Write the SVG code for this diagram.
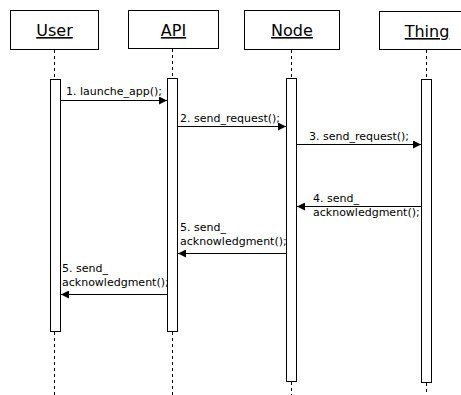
<svg xmlns="http://www.w3.org/2000/svg" width="461" height="395" viewBox="0 0 461 395">
<style>
.box{fill:#fff;stroke:#000;stroke-width:1}
.act{fill:#fff;stroke:#000;stroke-width:1}
.life{stroke:#000;stroke-width:1;stroke-dasharray:3 3;fill:none}
.title{font-family:"DejaVu Sans",Verdana,sans-serif;font-size:16px;text-anchor:middle;text-decoration:underline;fill:#000}
.msg{stroke:#000;stroke-width:1;fill:none;marker-end:url(#arr)}
.lbl{font-family:"DejaVu Sans",Verdana,sans-serif;font-size:11px;fill:#000}
</style>
<defs>
<marker id="arr" viewBox="0 0 10 10" refX="10" refY="5" markerWidth="8" markerHeight="8" markerUnits="userSpaceOnUse" orient="auto">
<path d="M0,0 L10,5 L0,10 z" fill="#000"/>
</marker>
</defs>
<g id="user">
<rect class="box" x="10.5" y="10.5" width="88" height="39"/>
<text class="title" x="54.5" y="36">User</text>
<line class="life" x1="54.5" y1="50" x2="54.5" y2="79"/>
<line class="life" x1="54.5" y1="332" x2="54.5" y2="395"/>
<rect class="act" x="50.5" y="79.5" width="10" height="252"/>
</g>
<g id="api">
<rect class="box" x="128.5" y="10.5" width="90" height="38"/>
<text class="title" x="173.5" y="36">API</text>
<line class="life" x1="172.5" y1="49" x2="172.5" y2="78"/>
<line class="life" x1="172.5" y1="332" x2="172.5" y2="395"/>
<rect class="act" x="167.5" y="78.5" width="10" height="253"/>
</g>
<g id="node">
<rect class="box" x="244.5" y="10.5" width="95" height="39"/>
<text class="title" x="292" y="36">Node</text>
<line class="life" x1="291.5" y1="50" x2="291.5" y2="78"/>
<line class="life" x1="291.5" y1="382" x2="291.5" y2="395"/>
<rect class="act" x="286.5" y="78.5" width="10" height="303"/>
</g>
<g id="thing">
<rect class="box" x="379.5" y="11.5" width="96" height="38"/>
<text class="title" x="427" y="37">Thing</text>
<line class="life" x1="426.5" y1="50" x2="426.5" y2="79"/>
<line class="life" x1="426.5" y1="383" x2="426.5" y2="395"/>
<rect class="act" x="421.5" y="79.5" width="10" height="303"/>
</g>
<g id="connectors">
<line class="msg" x1="60.5" y1="100.5" x2="167" y2="100.5"/>
<text class="lbl" x="66" y="95">1. launche_app();</text>
<line class="msg" x1="177.5" y1="126.5" x2="286" y2="126.5"/>
<text class="lbl" x="180" y="122">2. send_request();</text>
<line class="msg" x1="296.5" y1="144.5" x2="421" y2="144.5"/>
<text class="lbl" x="309" y="140">3. send_request();</text>
<line class="msg" x1="421.5" y1="206.5" x2="297" y2="206.5"/>
<text class="lbl" x="313" y="202">4. send_</text>
<text class="lbl" x="313" y="216">acknowledgment();</text>
<line class="msg" x1="286.5" y1="253.5" x2="178" y2="253.5"/>
<text class="lbl" x="180" y="231">5. send_</text>
<text class="lbl" x="180" y="245">acknowledgment();</text>
<line class="msg" x1="167.5" y1="294.5" x2="61" y2="294.5"/>
<text class="lbl" x="62" y="272">5. send_</text>
<text class="lbl" x="62" y="286">acknowledgment();</text>
</g>
</svg>
